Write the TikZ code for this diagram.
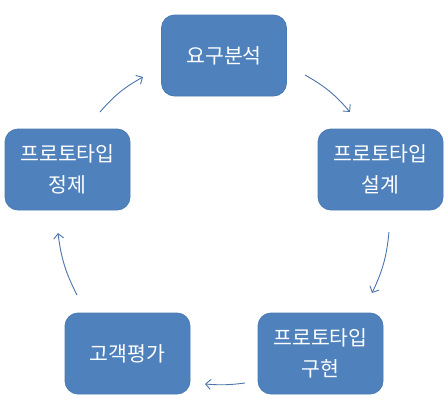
\documentclass[tikz,border=0pt]{standalone}
\usepackage{fontspec}
\newfontfamily\krfont{Noto Sans CJK KR}
\usetikzlibrary{arrows.meta}
\definecolor{boxblue}{HTML}{4F81BD}
\definecolor{boxedge}{HTML}{4A7AB3}
\definecolor{arrowblue}{HTML}{4A74AA}
\tikzset{
  stage/.style={draw=boxedge, line width=0.8pt, fill=boxblue, rounded corners=13pt,
    minimum width=125pt, minimum height=81pt, inner sep=0pt, align=center,
    text=white, font=\krfont\fontsize{20.5}{31}\selectfont},
  flow/.style={draw=arrowblue, line width=0.9pt, -{Straight Barb[length=5pt,width=10pt]}}
}
\begin{document}
\begin{tikzpicture}[x=1pt,y=-1pt]
\useasboundingbox (0,0) rectangle (448,408);
\node[stage] (req) at (224,55.5) {요구분석};
\node[stage] (design) at (380.5,169.5) {프로토타입\\설계};
\node[stage] (impl) at (320.5,353.5) {프로토타입\\구현};
\node[stage] (eval) at (127.5,353.5) {고객평가};
\node[stage] (refine) at (67.5,169.5) {프로토타입\\정제};
\coordinate (a1s) at (100,112); \coordinate (a1e) at (143,77);
\coordinate (a2s) at (305,75);  \coordinate (a2e) at (350,112);
\coordinate (a3s) at (389,232); \coordinate (a3e) at (372,293);
\coordinate (a4s) at (245,383); \coordinate (a4e) at (205,384);
\coordinate (a5s) at (77,295);  \coordinate (a5e) at (58,233);
\draw[flow] (a1s) to[bend left=10] (a1e);
\draw[flow] (a2s) to[bend left=10] (a2e);
\draw[flow] (a3s) to[bend left=10] (a3e);
\draw[flow] (a4s) to[bend left=6] (a4e);
\draw[flow] (a5s) to[bend left=10] (a5e);
\end{tikzpicture}
\end{document}
